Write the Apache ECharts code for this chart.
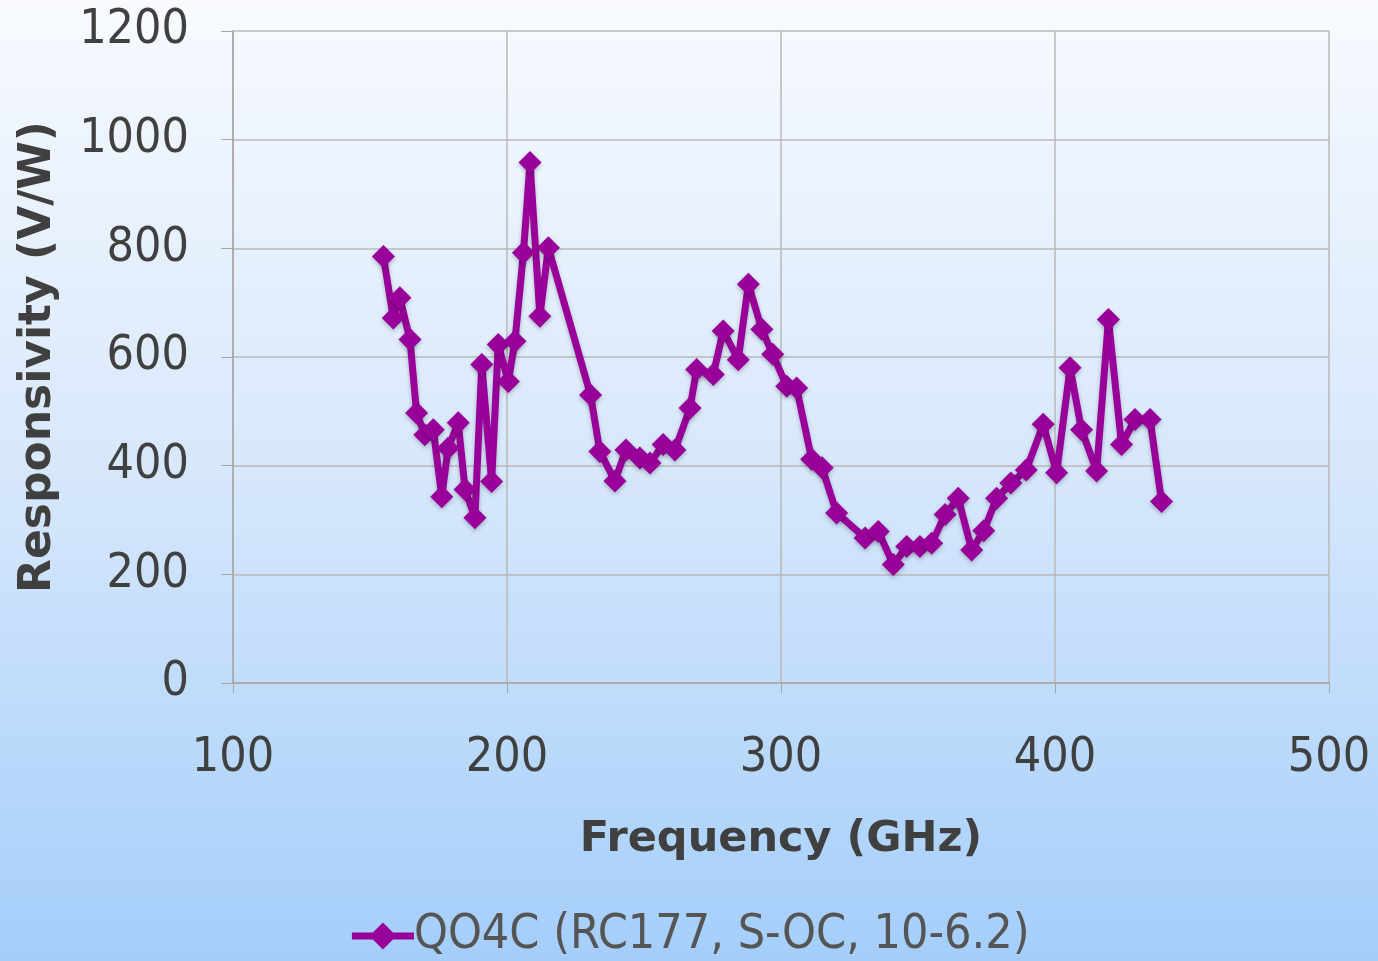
<!DOCTYPE html>
<html><head><meta charset="utf-8">
<script src="https://cdn.jsdelivr.net/npm/echarts@6/dist/echarts.min.js"></script>
<style>html,body{margin:0;padding:0;}#c{width:1378px;height:961px;}</style>
</head><body><div id="c"></div>
<script>
const seriesName = 'QO4C (RC177, S-OC, 10-6.2)';
const freqGHz = [154.9,158.5,160.9,164.6,167.0,170.0,173.1,176.2,178.5,182.2,184.7,188.3,190.8,194.4,196.8,200.5,202.9,206.0,208.4,212.0,215.1,230.5,233.9,239.4,243.4,248.5,252.2,257.0,261.3,266.8,269.2,275.3,278.9,284.4,288.1,293.0,297.0,302.1,305.7,311.2,315.0,320.3,330.7,335.5,341.0,345.9,350.7,355.0,359.9,364.7,369.6,374.0,378.7,383.9,389.5,395.7,400.6,405.5,409.7,415.2,419.5,424.3,429.2,434.7,438.9];
const responsivity = [785,672,709,632,497,457,466,343,432,479,356,304,586,371,623,555,629,792,958,675,801,530,426,372,429,414,405,439,429,506,577,568,648,595,734,651,605,546,543,412,396,313,267,279,218,251,251,257,310,340,245,280,340,368,392,476,387,580,466,390,669,439,485,485,334];
const xTicks = {min:100, max:500, interval:100};
const yTicks = {min:0, max:1200, interval:200};

const chart = echarts.init(document.getElementById('c'));
const font = '"DejaVu Sans Condensed", "Liberation Sans", sans-serif';
const boldFont = '"DejaVu Sans", sans-serif';
chart.setOption({
  backgroundColor: {type:'linear', x:0, y:0, x2:0, y2:1, colorStops:[
    {offset:0, color:'#f8fafe'},{offset:0.5, color:'#d6e7fc'},{offset:1, color:'#a4cefa'}]},
  animation:false,
  grid:{left:233, right:49, top:31, bottom:278, containLabel:false, outerBoundsMode:'none'},
  legend:{
    bottom:-4, left:'center', itemWidth:62, itemHeight:34, itemGap:0,
    lineStyle:{width:7},
    textStyle:{fontFamily:font, fontSize:48, color:'#555555', padding:[0,0,0,-5]},
    data:[seriesName]
  },
  xAxis:{
    type:'value', min:xTicks.min, max:xTicks.max, interval:xTicks.interval,
    name:'Frequency (GHz)', nameLocation:'middle', nameGap:135,
    nameTextStyle:{fontFamily:boldFont, fontSize:43, fontWeight:'bold', color:'#404040'},
    axisLine:{show:true, lineStyle:{color:'#a6a6a6', width:1.5}},
    axisTick:{show:true, length:10, lineStyle:{color:'#a6a6a6'}},
    axisLabel:{fontFamily:font, fontSize:48, color:'#404040', margin:52},
    splitLine:{show:true, lineStyle:{color:'#b8b8b8', width:1.5}}
  },
  yAxis:{
    type:'value', min:yTicks.min, max:yTicks.max, interval:yTicks.interval,
    name:'Responsivity (V/W)', nameLocation:'middle', nameGap:172,
    nameTextStyle:{fontFamily:boldFont, fontSize:44, fontWeight:'bold', color:'#404040'},
    axisLine:{show:true, lineStyle:{color:'#a6a6a6', width:1.5}},
    axisTick:{show:true, length:12, lineStyle:{color:'#a6a6a6'}},
    axisLabel:{fontFamily:font, fontSize:48, color:'#404040', margin:44, formatter:(v)=>String(v)},
    splitLine:{show:true, lineStyle:{color:'#b8b8b8', width:1.5}}
  },
  series:[{
    name:seriesName, type:'line',
    data:freqGHz.map((f,i)=>[f,responsivity[i]]),
    symbol:'diamond', symbolSize:23,
    itemStyle:{color:'#990099', shadowColor:'rgba(0,0,0,0.25)', shadowBlur:4, shadowOffsetY:2},
    lineStyle:{color:'#990099', width:7, shadowColor:'rgba(0,0,0,0.25)', shadowBlur:4, shadowOffsetY:2}
  }]
});
</script></body></html>
